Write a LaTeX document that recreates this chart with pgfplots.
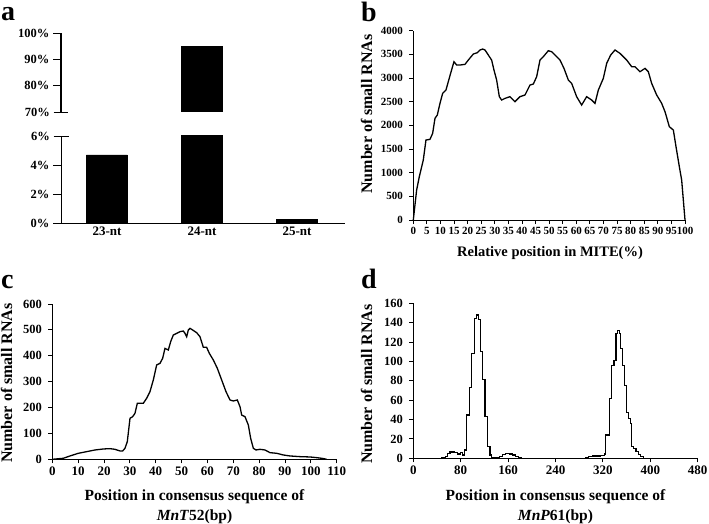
\documentclass[border=0pt]{standalone}
\usepackage{fontspec}
\setmainfont{Liberation Serif}
\usepackage{pgfplots}
\pgfplotsset{compat=1.18}
\newcommand{\fs}[1]{\fontsize{#1}{#1}\selectfont}
\pgfplotsset{
  common/.style={
    scale only axis, anchor=south west,
    axis lines*=left, axis line style={line width=1pt, black},
    tick align=outside, major tick length=4pt,
    tick style={line width=0.9pt, black},
    /pgf/number format/assume math mode=true,
    /pgf/number format/1000 sep={},
    scaled ticks=false,
  }
}
\begin{document}
\begin{tikzpicture}
\path[use as bounding box] (0,0) rectangle (709pt,523pt);

% ---------- panel a : lower part ----------
\begin{axis}[common, at={(61pt,300pt)}, width=284pt, height=87pt,
  ybar, bar width=41pt,
  xmin=0.516, xmax=3.505, ymin=0, ymax=6,
  major tick length=8pt,
  ytick={0,2,4}, yticklabels={0\%,2\%,4\%},
  extra y ticks={6}, extra y tick labels={6\%},
  extra y tick style={tick align=center, major tick length=15pt},
  xtick={1,2,3}, xticklabels={23-nt,24-nt,25-nt},
  xtick style={draw=none},
  xticklabel style={font=\bfseries\fs{13}, yshift=8pt},
  yticklabel style={font=\bfseries\fs{12.5}}]
\addplot[fill=black, draw=black] coordinates {(1,4.7) (2,94.8) (3,0.25)};
\end{axis}

% ---------- panel a : upper part (only the 24-nt bar reaches it) ----------
\begin{axis}[common, at={(61pt,411pt)}, width=284pt, height=79pt,
  axis x line=none, axis y line*=left,
  ybar, bar width=41pt,
  xmin=0.516, xmax=3.505, ymin=70, ymax=100,
  major tick length=8pt,
  ytick={80,90,100}, yticklabels={80\%,90\%,100\%},
  extra y ticks={70}, extra y tick labels={70\%},
  extra y tick style={tick align=center, major tick length=15pt},
  yticklabel style={font=\bfseries\fs{12.5}}]
\addplot[fill=black, draw=black] coordinates {(2,94.8)};
\end{axis}

% ---------- panel b ----------
\begin{axis}[common, at={(413.3pt,303pt)}, width=271.7pt, height=189.3pt,
  xmin=0, xmax=100, ymin=0, ymax=4000, clip=false,
  xtick={0,5,...,100}, ytick={0,500,...,4000},
  xticklabel style={font=\bfseries\fs{11}},
  yticklabel style={font=\bfseries\fs{11}, xshift=-3pt}]
\addplot[black, line width=1.3pt] coordinates {
(0,0) (1.23,634) (2.21,915) (3.68,1268) (4.66,1690) (6.13,1704) (7.12,1831)
(7.98,2148) (8.83,2218) (9.82,2465) (10.80,2676) (12.02,2746) (12.88,2923)
(13.74,3099) (14.97,3345) (15.95,3275) (17.18,3275) (19.02,3289) (20.25,3380)
(22.09,3507) (23.56,3535) (24.54,3592) (25.52,3613) (26.38,3592) (27.61,3486)
(28.83,3380) (29.69,3169) (30.67,2958) (31.66,2606) (32.52,2535) (33.74,2570)
(35.58,2606) (37.42,2500) (39.26,2606) (41.10,2641) (42.94,2852) (44.17,2873)
(45.40,3028) (46.63,3380) (47.85,3451) (49.69,3577) (50.92,3556) (52.76,3451)
(53.99,3380) (55.46,3204) (57.06,2958) (58.28,2887) (60.12,2606) (61.96,2429)
(63.80,2606) (65.64,2535) (66.87,2465) (68.10,2746) (69.94,2993) (71.17,3310)
(72.64,3486) (74.23,3592) (76.07,3521) (78.53,3380) (80.37,3239) (81.60,3239)
(83.44,3134) (85.28,3204) (86.50,3134) (87.73,2887) (89.57,2641) (91.41,2465)
(92.64,2289) (94.23,1972) (95.71,1901) (96.69,1549) (97.91,1127) (98.77,845)
(100,0)};
\end{axis}

% ---------- panel c ----------
\begin{axis}[common, at={(52.3pt,63.7pt)}, width=284.4pt, height=155.3pt,
  xmin=0, xmax=110, ymin=0, ymax=600, clip=false,
  xtick={0,10,...,110}, ytick={0,100,...,600},
  xticklabel style={font=\bfseries\fs{13}},
  yticklabel style={font=\bfseries\fs{12.5}, xshift=-3pt}]
\addplot[black, line width=1.3pt] coordinates {
(0,0) (4.26,3.9) (6.83,12.9) (10.06,23.2) (13.28,29.6) (16.51,36.0) (19.73,39.9)
(22.31,41.2) (24.24,38.6) (26.18,32.2) (27.21,32.2) (28.11,42.5) (29.01,68.2)
(30.05,158.4) (31.08,164.8) (31.98,177.7) (32.88,216.3) (35.20,216.3)
(36.49,235.6) (37.78,261.4) (39.07,306.4) (40.36,364.4) (41.65,370.8)
(42.68,390.1) (43.58,428.7) (44.87,422.3) (45.78,454.5) (46.81,480.2)
(48.10,486.7) (49.39,493.1) (50.68,495.7) (51.32,486.7) (51.97,473.8)
(52.61,499.5) (53.26,506.0) (54.29,499.5) (55.84,489.2) (57.12,473.8)
(58.41,432.6) (59.70,432.6) (60.74,409.4) (62.28,383.7) (63.83,351.5)
(65.51,306.4) (67.18,261.4) (68.73,229.2) (70.02,225.3) (71.57,229.2)
(72.60,203.4) (73.24,171.2) (74.53,164.8) (75.82,132.6) (76.72,81.1)
(77.76,42.5) (78.79,36.0) (80.34,38.6) (82.27,36.0) (84.20,25.7) (86.78,23.2)
(89.36,16.7) (91.94,12.9) (95.81,10.3) (99.68,9.0) (102.26,6.4) (104.19,3.9)
(106.13,0)};
\end{axis}

% ---------- panel d ----------
\begin{axis}[common, at={(413.3pt,64.7pt)}, width=284.4pt, height=155pt,
  xmin=0, xmax=480, ymin=0, ymax=160, clip=false,
  xtick={0,80,...,480}, ytick={0,20,...,160},
  xticklabel style={font=\bfseries\fs{13}},
  yticklabel style={font=\bfseries\fs{12.5}, xshift=-3pt}]
\addplot[black, line width=1.2pt, const plot] coordinates {
(0,0) (48,0.5) (54,2) (58,5) (62,6.5) (70,6) (74,4.5) (79,6) (83,3.5)
(87,8.5) (90,44.7) (94.6,73) (98.5,108) (103,144.5) (106,148) (110,143)
(114,110) (117,81) (121,43) (125,12) (129.5,3.4) (132,1) (140,1) (146,2)
(150,4) (155,5) (162,4.5) (168,3.5) (173,2) (178,0.5) (182,0)
(290,0.5) (296,1.5) (303,2.4) (315,3) (323,4.4) (324,24) (330.8,62)
(334.8,96) (338.7,101) (342.1,129) (345,132) (348,129) (350,113) (353,96)
(356,75) (359.5,47) (363,41) (366,36) (368.5,12) (372,10) (376,7) (380,4)
(384,1.5) (388,0) (480,0)};
\end{axis}

% ---------- texts ----------
\node[anchor=base west, font=\bfseries\fs{28}, inner sep=0] at (1pt,502pt) {a};
\node[anchor=base west, font=\bfseries\fs{28}, inner sep=0] at (361pt,501pt) {b};
\node[anchor=base west, font=\bfseries\fs{28}, inner sep=0] at (1pt,235pt) {c};
\node[anchor=base west, font=\bfseries\fs{28}, inner sep=0] at (361pt,235pt) {d};

\node[rotate=90, font=\bfseries\fs{16}, inner sep=0] at (366.7pt,409pt) {Number of small RNAs};
\node[font=\bfseries\fs{14.5}, inner sep=0] at (550pt,270pt) {Relative position in MITE(\%)};

\node[rotate=90, font=\bfseries\fs{16}, inner sep=0] at (6.7pt,140pt) {Number of small RNAs};
\node[font=\bfseries\fs{15.5}, inner sep=0] at (194.5pt,26pt) {Position in consensus sequence of};
\node[font=\bfseries\fs{15.5}, inner sep=0] at (194.5pt,6pt) {\textit{MnT}52(bp)};

\node[rotate=90, font=\bfseries\fs{16}, inner sep=0] at (366.7pt,139pt) {Number of small RNAs};
\node[font=\bfseries\fs{15.5}, inner sep=0] at (555.5pt,26pt) {Position in consensus sequence of};
\node[font=\bfseries\fs{15.5}, inner sep=0] at (555.5pt,6pt) {\textit{MnP}61(bp)};
\end{tikzpicture}
\end{document}
